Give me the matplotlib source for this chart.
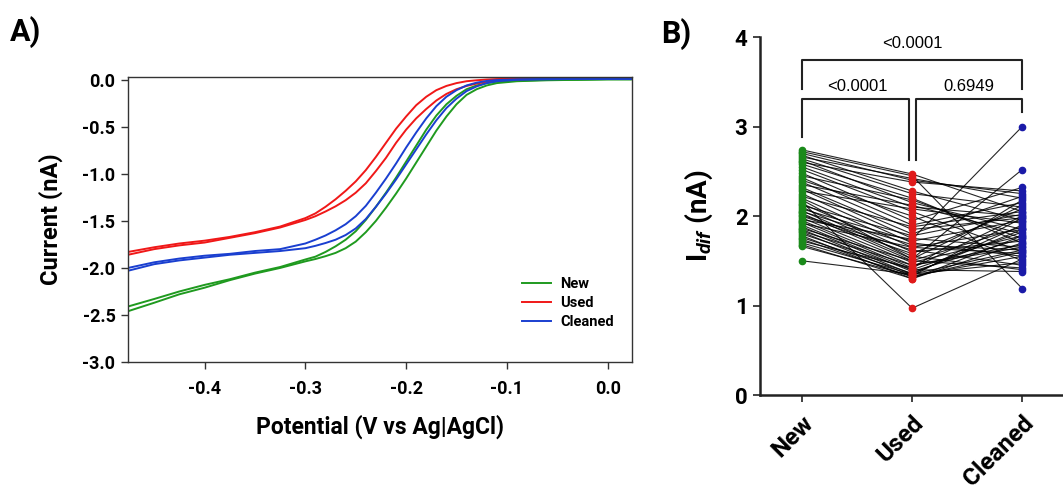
import matplotlib
matplotlib.use("Agg")
import matplotlib.pyplot as plt

plt.rcParams['font.family'] = ['Roboto', 'DejaVu Sans']
plt.rcParams['font.weight'] = 'bold'
plt.rcParams['mathtext.fontset'] = 'custom'
plt.rcParams['mathtext.it'] = 'Roboto:italic:bold'
plt.rcParams['mathtext.rm'] = 'Roboto:bold'

# ---- panel A: voltammograms (forward / reverse trace per electrode) ----
potential = [-0.476, -0.45, -0.425, -0.40, -0.375, -0.35, -0.325, -0.30, -0.29, -0.28,
             -0.27, -0.26, -0.25, -0.24, -0.23, -0.22, -0.21, -0.20, -0.19, -0.18, -0.17,
             -0.16, -0.15, -0.14, -0.13, -0.12, -0.11, -0.09, -0.06, -0.03, 0.0, 0.023]

new_fwd = [-2.46, -2.37, -2.28, -2.21, -2.13, -2.06, -2.00, -1.93, -1.905, -1.875,
           -1.84, -1.79, -1.72, -1.62, -1.50, -1.36, -1.21, -1.05, -0.88, -0.71, -0.54,
           -0.39, -0.26, -0.16, -0.10, -0.06, -0.035, -0.015, -0.005, 0.0, 0.005, 0.005]
new_rev = [-2.41, -2.33, -2.25, -2.18, -2.12, -2.05, -1.99, -1.91, -1.88, -1.83,
           -1.77, -1.70, -1.61, -1.49, -1.35, -1.20, -1.04, -0.87, -0.70, -0.53, -0.38,
           -0.26, -0.17, -0.10, -0.06, -0.035, -0.02, -0.01, 0.0, 0.0, 0.005, 0.005]

used_fwd = [-1.86, -1.80, -1.76, -1.73, -1.68, -1.63, -1.57, -1.49, -1.45, -1.40,
            -1.345, -1.28, -1.20, -1.10, -0.97, -0.83, -0.67, -0.53, -0.41, -0.31, -0.22,
            -0.15, -0.10, -0.065, -0.04, -0.02, -0.008, 0.005, 0.012, 0.015, 0.015, 0.015]
used_rev = [-1.83, -1.78, -1.74, -1.71, -1.67, -1.62, -1.56, -1.47, -1.42, -1.35,
            -1.27, -1.18, -1.08, -0.96, -0.82, -0.67, -0.52, -0.39, -0.27, -0.18, -0.11,
            -0.065, -0.035, -0.015, -0.005, 0.003, 0.008, 0.012, 0.015, 0.018, 0.02, 0.02]

clean_fwd = [-2.03, -1.96, -1.92, -1.89, -1.86, -1.84, -1.82, -1.79, -1.765, -1.735,
             -1.70, -1.65, -1.58, -1.48, -1.35, -1.21, -1.06, -0.90, -0.74, -0.58, -0.43,
             -0.30, -0.20, -0.12, -0.07, -0.035, -0.015, 0.0, 0.005, 0.01, 0.01, 0.01]
clean_rev = [-2.00, -1.94, -1.90, -1.87, -1.85, -1.82, -1.80, -1.74, -1.70, -1.655,
             -1.60, -1.535, -1.45, -1.34, -1.20, -1.05, -0.89, -0.72, -0.56, -0.41, -0.28,
             -0.18, -0.11, -0.06, -0.03, -0.012, -0.003, 0.005, 0.01, 0.01, 0.01, 0.01]

# ---- panel B: paired I_dif values ----
groups = ['New', 'Used', 'Cleaned']
idif_new = [2.74, 2.72, 2.70, 2.68, 2.66, 2.64, 2.62, 2.60, 2.58, 2.55, 2.52, 2.48, 2.45,
            2.43, 2.40, 2.38, 2.35, 2.32, 2.30, 2.28, 2.25, 2.22, 2.20, 2.18, 2.16, 2.14,
            2.12, 2.10, 2.08, 2.06, 2.05, 2.03, 2.01, 2.00, 1.98, 1.96, 1.95, 1.93, 1.92,
            1.90, 1.88, 1.86, 1.85, 1.83, 1.82, 1.80, 1.78, 1.76, 1.74, 1.72, 1.70, 1.68,
            1.66, 1.50]
idif_used = [2.47, 2.45, 2.40, 2.28, 2.42, 2.25, 2.15, 2.38, 2.20, 2.10, 2.05, 1.95, 2.18,
             1.90, 2.00, 1.85, 2.12, 1.80, 1.75, 2.08, 1.70, 1.88, 1.65, 1.52, 0.97, 1.60,
             1.78, 1.55, 1.72, 1.52, 1.68, 1.50, 1.62, 1.58, 1.48, 1.74, 1.45, 1.42, 1.65,
             1.40, 1.38, 1.50, 1.35, 1.45, 1.33, 1.40, 1.30, 1.36, 1.32, 1.42, 1.35, 1.30,
             1.33, 1.35]
idif_clean = [2.05, 1.19, 2.25, 1.95, 2.20, 2.10, 1.85, 2.28, 1.70, 2.00, 1.60, 2.32, 1.75,
              2.15, 1.50, 1.98, 1.80, 2.22, 1.65, 1.92, 1.55, 2.05, 1.85, 2.52, 1.52, 1.72,
              2.02, 1.40, 1.95, 2.12, 1.62, 1.88, 1.45, 2.08, 1.78, 3.00, 1.68, 2.00, 1.58,
              1.82, 1.75, 1.42, 1.90, 1.65, 1.98, 1.38, 1.70, 1.85, 1.60, 2.18, 1.48, 1.78,
              1.55, 1.62]

fig = plt.figure(figsize=(10.63, 4.91), dpi=100)

# ---------------- A ----------------
ax = fig.add_axes([0.1204, 0.2627, 0.474, 0.5805])
c_new, c_used, c_clean = '#1f9a1f', '#f01818', '#1a3fd0'
ax.plot(potential, new_fwd, color=c_new, lw=1.4, label='New')
ax.plot(potential, new_rev, color=c_new, lw=1.4)
ax.plot(potential, used_fwd, color=c_used, lw=1.4, label='Used')
ax.plot(potential, used_rev, color=c_used, lw=1.4)
ax.plot(potential, clean_fwd, color=c_clean, lw=1.4, label='Cleaned')
ax.plot(potential, clean_rev, color=c_clean, lw=1.4)
ax.set_xlim(-0.476, 0.024)
ax.set_ylim(-3.0, 0.03)
ax.set_xticks([-0.4, -0.3, -0.2, -0.1, 0.0])
ax.set_xticklabels(['-0.4', '-0.3', '-0.2', '-0.1', '0.0'])
ax.set_yticks([0.0, -0.5, -1.0, -1.5, -2.0, -2.5, -3.0])
ax.set_yticklabels(['0.0', '-0.5', '-1.0', '-1.5', '-2.0', '-2.5', '-3.0'])
for s in ax.spines.values():
    s.set_linewidth(1.0)
    s.set_color('#333333')
ax.tick_params(direction='out', length=5, width=1, color='#333333', labelsize=13, pad=4)
ax.tick_params(axis='x', pad=8)
ax.set_xlabel('Potential (V vs Ag|AgCl)', fontsize=16.5, fontweight='bold', labelpad=12)
ax.set_ylabel('Current (nA)', fontsize=17, fontweight='bold', labelpad=14)
ax.legend(loc='lower right', bbox_to_anchor=(0.99, 0.07), frameon=False,
          prop={'weight': 'bold', 'size': 10.5}, handlelength=2.0, labelspacing=0.35,
          handletextpad=0.6)
fig.text(0.009, 0.935, 'A)', fontsize=22, fontweight='bold', va='center')

# ---------------- B ----------------
bx = fig.add_axes([0.715, 0.1955, 0.285, 0.729])
pos = [0, 1, 2]
for a, b, c in zip(idif_new, idif_used, idif_clean):
    bx.plot(pos, [a, b, c], color='black', lw=0.8, alpha=0.85, zorder=2)
bx.plot([0] * len(idif_new), idif_new, 'o', color='#1a8a1a', ms=4.5, zorder=3)
bx.plot([1] * len(idif_used), idif_used, 'o', color='#e01a1a', ms=4.5, zorder=3)
bx.plot([2] * len(idif_clean), idif_clean, 'o', color='#1a1aa8', ms=4.5, zorder=3)
bx.set_xlim(-0.38, 2.37)
bx.set_ylim(0, 4)
bx.set_yticks([0, 1, 2, 3, 4])
bx.set_xticks(pos)
bx.set_xticklabels(groups, rotation=45, ha='right', rotation_mode='anchor')
bx.spines['top'].set_visible(False)
bx.spines['right'].set_visible(False)
for s in ['left', 'bottom']:
    bx.spines[s].set_linewidth(1.8)
    bx.spines[s].set_color('#222222')
bx.tick_params(direction='out', length=5, width=1.2, color='#222222', labelsize=16, pad=4)
bx.tick_params(axis='x', labelsize=17.5, pad=7)
bx.set_ylabel(r'I$_{dif}$ (nA)', fontsize=20, fontweight='bold', labelpad=14)

br = dict(color='#222222', lw=1.5, clip_on=False)
bx.plot([0, 0, 2, 2], [3.42, 3.74, 3.74, 3.42], **br)
bx.plot([0, 0, 0.973, 0.973], [2.88, 3.31, 3.31, 2.63], **br)
bx.plot([1.036, 1.036, 2, 2], [2.63, 3.31, 3.31, 3.16], **br)
pfont = dict(family='Liberation Sans', fontweight='normal', fontsize=12,
             ha='center', va='center')
bx.text(1.0, 3.93, '<0.0001', **pfont)
bx.text(0.5, 3.45, '<0.0001', **pfont)
bx.text(1.52, 3.45, '0.6949', **pfont)
fig.text(0.622, 0.93, 'B)', fontsize=22, fontweight='bold', va='center')

fig.savefig('out.png', dpi=100)
